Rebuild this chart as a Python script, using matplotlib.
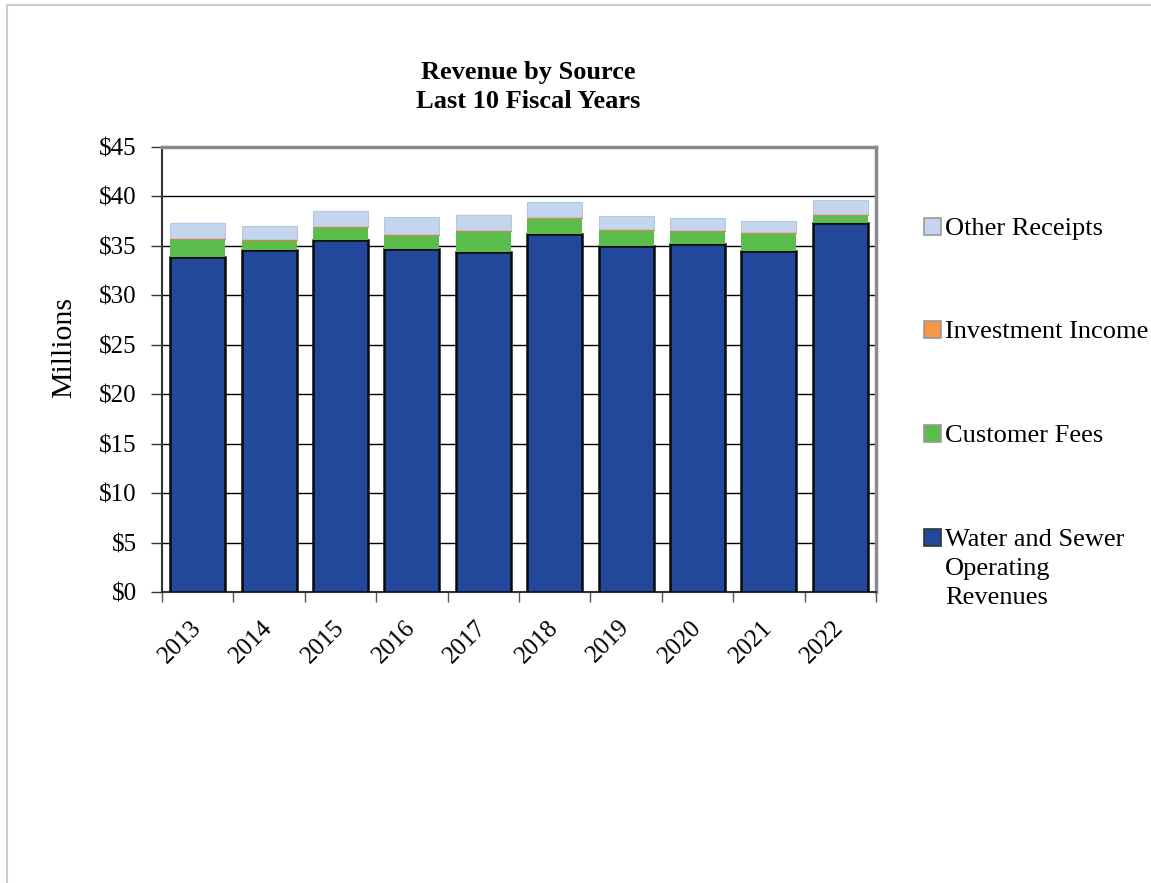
import numpy as np
import matplotlib
matplotlib.use("Agg")
import matplotlib.pyplot as plt
from matplotlib.lines import Line2D
from matplotlib.patches import Rectangle

plt.rcParams['font.family'] = ['Liberation Serif', 'DejaVu Serif']

# Du lieu (trieu USD)
years = ['2013', '2014', '2015', '2016', '2017', '2018', '2019', '2020', '2021', '2022']
water_sewer = [33.9, 34.6, 35.6, 34.7, 34.35, 36.2, 35.0, 35.2, 34.5, 37.3]
customer_fees = [1.8, 1.0, 1.35, 1.4, 2.15, 1.6, 1.6, 1.3, 1.8, 0.85]
investment = [0.12, 0.1, 0.1, 0.1, 0.1, 0.1, 0.1, 0.1, 0.1, 0.05]
other_receipts = [1.5, 1.35, 1.5, 1.7, 1.5, 1.5, 1.3, 1.2, 1.1, 1.4]
y_ticks = [0, 5, 10, 15, 20, 25, 30, 35, 40, 45]

series_names = ['Water and Sewer\nOperating\nRevenues', 'Customer Fees',
                'Investment Income', 'Other Receipts']
colors = ['#21489B', '#5BBD4B', '#F79646', '#C3D6EE']
edges = ['#0A0A0A', '#5BBD4B', '#D9823A', '#B5C8E0']

fig = plt.figure(figsize=(11.51, 8.83), dpi=100)
ax = fig.add_axes([162 / 1151, 1 - 592 / 883, 714 / 1151, 445 / 883])

x = np.arange(len(years))
bottom = np.zeros(len(years))
all_series = [water_sewer, customer_fees, investment, other_receipts]
for vals, c, ec, lw in zip(all_series, colors, edges, [1.8, 0, 0.8, 0.8]):
    vals = np.array(vals)
    ax.bar(x, vals, width=0.77, bottom=bottom, color=c, edgecolor=ec,
           linewidth=lw, zorder=3)
    bottom += vals

ax.set_xlim(-0.5, len(years) - 0.5)
ax.set_ylim(0, 45)
ax.set_yticks(y_ticks)
ax.set_yticklabels(['$' + str(v) for v in y_ticks], fontsize=18)
ax.yaxis.grid(True, color='black', linewidth=1.0, zorder=0)
ax.set_axisbelow(True)

# vach chia giua cac nam, nhan o giua
ax.set_xticks(np.arange(len(years) + 1) - 0.5)
ax.set_xticklabels([])
ax.set_xticks(x, minor=True)
ax.set_xticklabels(years, minor=True, fontsize=18, rotation=45,
                   ha='right', va='center', rotation_mode='anchor')
ax.tick_params(axis='x', which='minor', length=0, pad=23)
ax.tick_params(axis='x', which='major', length=7, width=1, color='#555555')
ax.tick_params(axis='y', length=8, width=1, pad=10, color='#333333')

for s in ['top', 'right']:
    ax.spines[s].set_color('#8A8A8A')
    ax.spines[s].set_linewidth(2.5)
ax.spines['left'].set_color('#333333')
ax.spines['left'].set_linewidth(1.5)
ax.spines['bottom'].set_color('#333333')
ax.spines['bottom'].set_linewidth(1.5)

fig.text(528 / 1151, 1 - 72 / 883, 'Revenue by Source', fontsize=19,
         fontweight='bold', ha='center', va='center')
fig.text(528 / 1151, 1 - 101 / 883, 'Last 10 Fiscal Years', fontsize=19,
         fontweight='bold', ha='center', va='center')
fig.text(64 / 1151, 1 - 347 / 883, 'Millions', fontsize=21.5, rotation=90,
         ha='center', va='center')

# chu giai ben phai
leg_y = [538, 434, 330, 227]
for name, c, ec, yy in zip(series_names, colors, edges, leg_y):
    fig.patches.append(Rectangle((924 / 1151, 1 - (yy + 8) / 883), 17 / 1151, 17 / 883,
                                 transform=fig.transFigure, facecolor=c,
                                 edgecolor='#333333' if c == colors[0] else '#999999',
                                 linewidth=1.2))
    fig.text(945 / 1151, 1 - (yy - 9) / 883, name, fontsize=19, ha='left', va='top',
             linespacing=1.4)

# khung vien mau xam
fig.add_artist(Line2D([7 / 1151, 1], [1 - 5 / 883, 1 - 5 / 883], color='#CCCCCC',
                      linewidth=1.5, transform=fig.transFigure))
fig.add_artist(Line2D([7 / 1151, 7 / 1151], [0, 1 - 5 / 883], color='#CCCCCC',
                      linewidth=1.5, transform=fig.transFigure))

fig.savefig('out.png', dpi=100)
